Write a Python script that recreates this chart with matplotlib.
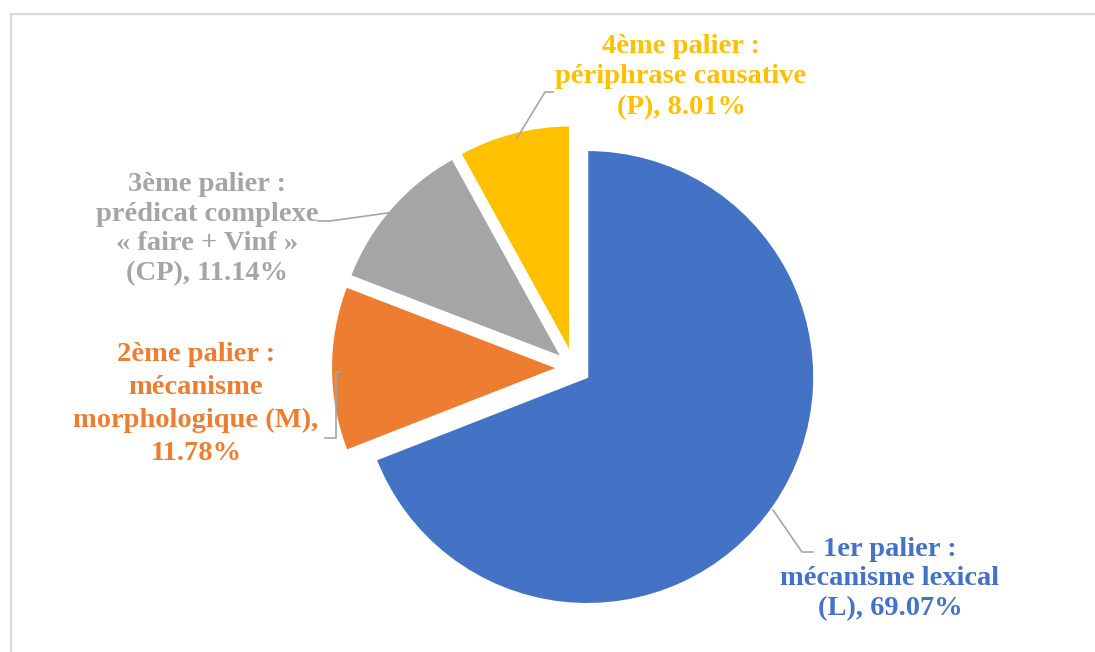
import matplotlib
matplotlib.use("Agg")
import matplotlib.pyplot as plt
from matplotlib.lines import Line2D

# ---- data ----
categories = ["1er palier : mécanisme lexical (L)",
              "2ème palier : mécanisme morphologique (M)",
              "3ème palier : prédicat complexe « faire + Vinf » (CP)",
              "4ème palier : périphrase causative (P)"]
values = [69.07, 11.78, 11.14, 8.01]
colors = ["#4472C4", "#ED7D31", "#A5A5A5", "#FFC000"]
label_texts = ["1er palier :\nmécanisme lexical\n(L), 69.07%",
               "2ème palier :\nmécanisme\nmorphologique (M),\n11.78%",
               "3ème palier :\nprédicat complexe\n« faire + Vinf »\n(CP), 11.14%",
               "4ème palier :\npériphrase causative\n(P), 8.01%"]

W, H = 1095, 652
fig = plt.figure(figsize=(W / 100, H / 100), dpi=100)
ax = fig.add_axes([0, 0, 1, 1])

def Y(y):
    return H - y

R = 227
ax.pie(values, colors=colors, startangle=90, counterclock=False,
       center=(574, Y(368)), radius=R, explode=[16] * 4,
       wedgeprops=dict(edgecolor="white", linewidth=1.5), frame=True)
ax.set_xlim(0, W)
ax.set_ylim(0, H)
ax.set_aspect("equal")
ax.axis("off")

# frame border
ax.add_line(Line2D([11, 11, W], [Y(H), Y(14), Y(14)], color="#D9D9D9", lw=1.5))

# labels
label_pos = [(890, 579), (196, 404), (207, 229), (681, 77)]
spacings = [1.22, 1.4, 1.25, 1.28]
for txt, (x, y), c, ls in zip(label_texts, label_pos, colors, spacings):
    ax.text(x, Y(y), txt, ha="center", va="center", color=c,
            fontsize=20.5, fontweight="bold", family="Liberation Serif",
            linespacing=ls)

# leader lines
lc = "#A6A6A6"
leaders = [
    [(773, 510), (802, 552), (813, 552)],
    [(340, 372), (336, 372), (336, 438), (325, 438)],
    [(395, 212), (330, 221), (318, 221)],
    [(517, 138), (545, 92), (553, 92)],
]
for pts in leaders:
    xs = [p[0] for p in pts]
    ys = [Y(p[1]) for p in pts]
    ax.add_line(Line2D(xs, ys, color=lc, lw=1.2))

fig.savefig("out.png", dpi=100)
